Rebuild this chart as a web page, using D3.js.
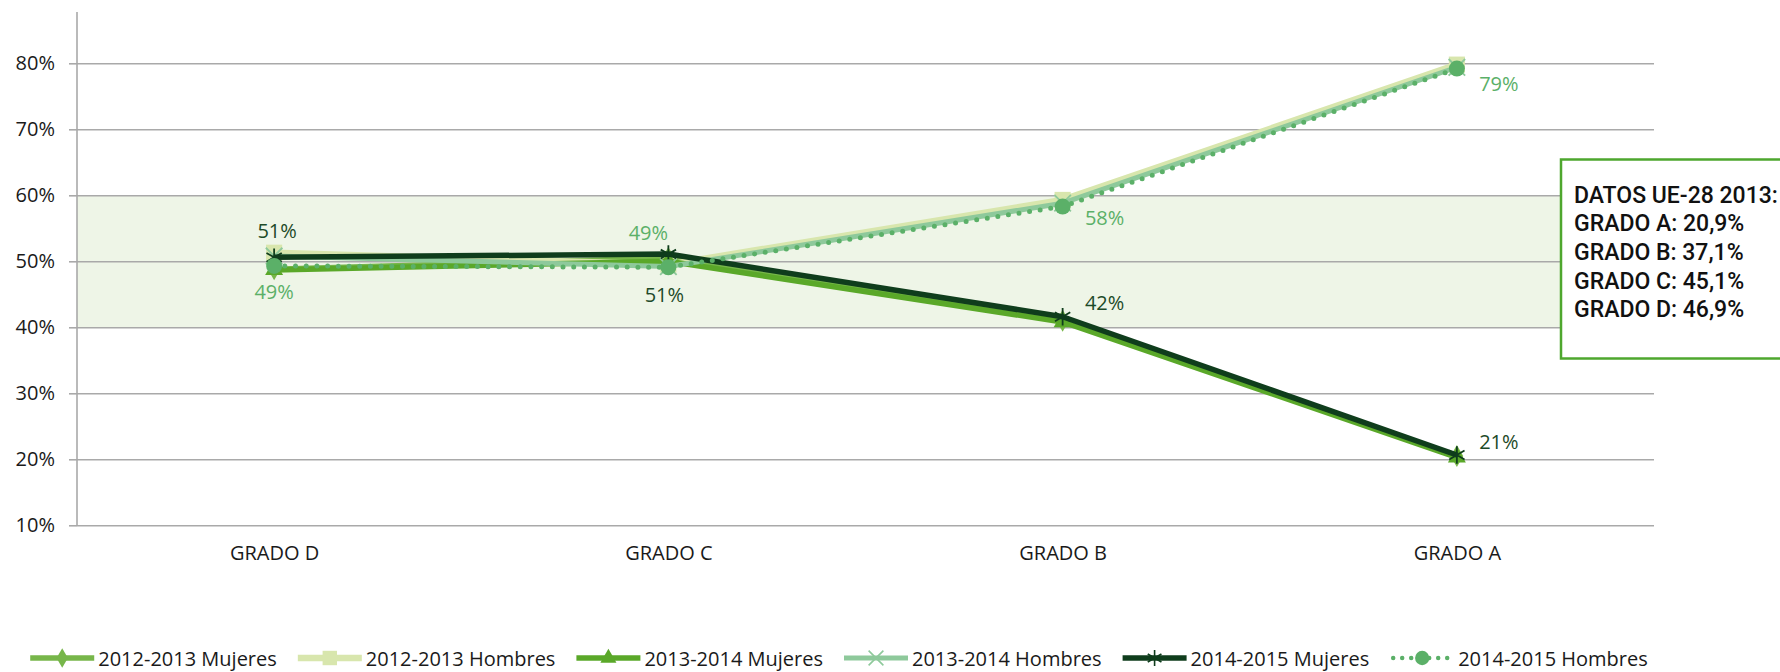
<!DOCTYPE html>
<html>
<head>
<meta charset="utf-8">
<script src="https://cdn.jsdelivr.net/npm/d3@7"></script>
<style>
  body { margin: 0; background: #fff; }
  svg { display: block; font-family: "Open Sans", sans-serif; }
</style>
</head>
<body>
<svg id="chart" width="1780" height="672"></svg>
<script>
// categories and values
var categories = ["GRADO D", "GRADO C", "GRADO B", "GRADO A"];
var yTicks = [0.1, 0.2, 0.3, 0.4, 0.5, 0.6, 0.7, 0.8];

var mujeres1213 = [0.488, 0.505, 0.410, 0.205];
var hombres1213 = [0.513, 0.495, 0.593, 0.798];
var mujeres1314 = [0.487, 0.500, 0.408, 0.203];
var hombres1314 = [0.508, 0.492, 0.588, 0.794];
var mujeres1415 = [0.506, 0.511, 0.416, 0.2065];
var hombres1415 = [0.493, 0.491, 0.583, 0.792];

var seriesNames = ["2012-2013 Mujeres", "2012-2013 Hombres", "2013-2014 Mujeres",
                   "2013-2014 Hombres", "2014-2015 Mujeres", "2014-2015 Hombres"];

var ueTitle = "DATOS UE-28 2013:";
var ueLines = ["GRADO A: 20,9%", "GRADO B: 37,1%", "GRADO C: 45,1%", "GRADO D: 46,9%"];

var series = [
  {name: seriesNames[0], values: mujeres1213, color: "#77b64a", width: 5.5, symbol: d3.symbolDiamond, size: 140, fill: true},
  {name: seriesNames[1], values: hombres1213, color: "#d8e6ad", width: 6.5, symbol: d3.symbolSquare, size: 260, fill: true},
  {name: seriesNames[2], values: mujeres1314, color: "#5aa829", width: 5.5, symbol: d3.symbolTriangle, size: 140, fill: true},
  {name: seriesNames[3], values: hombres1314, color: "#8ec99b", width: 5, symbol: d3.symbolTimes, size: 180, fill: false},
  {name: seriesNames[4], values: mujeres1415, color: "#0f3d1c", width: 5.5, symbol: d3.symbolAsterisk, size: 220, fill: false, label: "#1d4a28",
   place: ["above", "belowC", "rightUp", "rightUp"]},
  {name: seriesNames[5], values: hombres1415, color: "#5bb068", width: 5, symbol: d3.symbolCircle, size: 200, fill: true, dotted: true, label: "#5bb068",
   place: ["below", "aboveLeft", "rightDown", "rightDown2"]}
];

var plotLeft = 77, plotRight = 1654, plotTop = 12;

var svg = d3.select("#chart");

var x = d3.scalePoint().domain(categories).range([plotLeft, plotRight]).padding(0.5);
var y = d3.scaleLinear().domain([0.1, 0.8]).range([525.3, 63.3]);

// shaded band between 40% and 60%
svg.append("rect")
    .attr("x", plotLeft).attr("y", y(0.6))
    .attr("width", plotRight - plotLeft).attr("height", y(0.4) - y(0.6))
    .attr("fill", "#eef5e7");

// gridlines
var grid = svg.append("g")
    .attr("transform", "translate(" + plotLeft + ",0)")
    .call(d3.axisLeft(y).tickValues(yTicks).tickSize(-(plotRight - plotLeft)).tickFormat(""));
grid.select(".domain").remove();
grid.selectAll("line").attr("stroke", "#a9a9a9").attr("stroke-width", 1.6);

// y axis, ticks + labels
var yAxis = svg.append("g")
    .attr("transform", "translate(" + plotLeft + ",0)")
    .call(d3.axisLeft(y).tickValues(yTicks).tickSize(8).tickPadding(14).tickFormat(d3.format(".0%")));
yAxis.select(".domain").remove();
yAxis.selectAll("line").attr("stroke", "#a9a9a9").attr("stroke-width", 1.6);
yAxis.selectAll("text").attr("font-size", 20).attr("fill", "#1a1a1a").attr("font-family", "Open Sans");

svg.append("line")
    .attr("x1", plotLeft).attr("x2", plotLeft)
    .attr("y1", plotTop).attr("y2", y(0.1))
    .attr("stroke", "#a9a9a9").attr("stroke-width", 1.6);

// category axis
var xAxis = svg.append("g")
    .attr("transform", "translate(0," + y(0.1) + ")")
    .call(d3.axisBottom(x).tickSize(0).tickPadding(21));
xAxis.select(".domain").remove();
xAxis.selectAll("text").attr("font-size", 20).attr("fill", "#1a1a1a").attr("font-family", "Open Sans");

var line = d3.line()
    .x(function(d, i) { return x(categories[i]); })
    .y(function(d) { return y(d); });

series.forEach(function(s) {
  var g = svg.append("g");
  if (s.dotted) {
    g.append("path").datum(s.values)
      .attr("d", line).attr("fill", "none")
      .attr("stroke", s.color).attr("stroke-width", s.width)
      .attr("stroke-linecap", "round").attr("stroke-dasharray", "0 10.7");
  } else {
    g.append("path").datum(s.values)
      .attr("d", line).attr("fill", "none")
      .attr("stroke", s.color).attr("stroke-width", s.width)
      .attr("stroke-linejoin", "round");
  }
  g.selectAll(".mk").data(s.values).enter().append("path")
    .attr("transform", function(d, i) { return "translate(" + x(categories[i]) + "," + y(d) + ")"; })
    .attr("d", d3.symbol().type(s.symbol).size(s.size))
    .attr("fill", s.fill ? s.color : "none")
    .attr("stroke", s.color)
    .attr("stroke-width", s.fill ? 0 : 1.8);
});

// data labels for 2014-2015
var offsets = {
  above: [3, -27], below: [0, 26], aboveLeft: [-20, -35], belowC: [-4, 40],
  rightUp: [42, -14], rightDown: [42, 11], rightDown2: [42, 15]
};

series.filter(function(s) { return s.place; }).forEach(function(s) {
  svg.append("g").selectAll("text").data(s.values).enter().append("text")
    .attr("x", function(d, i) { return x(categories[i]) + offsets[s.place[i]][0]; })
    .attr("y", function(d, i) { return y(d) + offsets[s.place[i]][1]; })
    .attr("text-anchor", "middle")
    .attr("dominant-baseline", "central")
    .attr("font-size", 20)
    .attr("fill", s.label)
    .text(function(d) { return d3.format(".0%")(d); });
});

// EU box on the right
var box = svg.append("g");
box.append("rect")
    .attr("x", 1561).attr("y", 159.5)
    .attr("width", 260).attr("height", 199)
    .attr("fill", "#fff").attr("stroke", "#4ea72e").attr("stroke-width", 2.5);
box.selectAll("text").data([ueTitle].concat(ueLines)).enter().append("text")
    .attr("x", 1574)
    .attr("y", function(d, i) { return 202.7 + i * 28.6; })
    .attr("font-family", "Roboto")
    .attr("font-weight", 500)
    .attr("font-size", 23)
    .attr("fill", "#111")
    .text(function(d) { return d; });

// legend
var legend = svg.append("g");
var lx = 0, lineLen = 64;
series.forEach(function(s) {
  var item = legend.append("g").attr("transform", "translate(" + lx + ",0)");
  if (s.dotted) {
    item.append("line").attr("x1", 3).attr("x2", lineLen - 3)
      .attr("stroke", s.color).attr("stroke-width", 4.5)
      .attr("stroke-linecap", "round").attr("stroke-dasharray", "0 9");
  } else {
    item.append("line").attr("x1", 0).attr("x2", lineLen)
      .attr("stroke", s.color).attr("stroke-width", s.width);
  }
  item.append("path")
    .attr("transform", "translate(" + lineLen / 2 + ",0)")
    .attr("d", d3.symbol().type(s.symbol).size(s.size * 0.8))
    .attr("fill", s.fill ? s.color : "none")
    .attr("stroke", s.color)
    .attr("stroke-width", s.fill ? 0 : 1.6);
  var t = item.append("text")
    .attr("x", lineLen + 4)
    .attr("dominant-baseline", "central")
    .attr("font-size", 20)
    .attr("fill", "#1a1a1a")
    .text(s.name);
  lx += lineLen + 4 + t.node().getComputedTextLength() + 21;
});
var legendW = lx - 21;
legend.attr("transform", "translate(" + (839 - legendW / 2) + ",658)");
</script>
</body>
</html>
